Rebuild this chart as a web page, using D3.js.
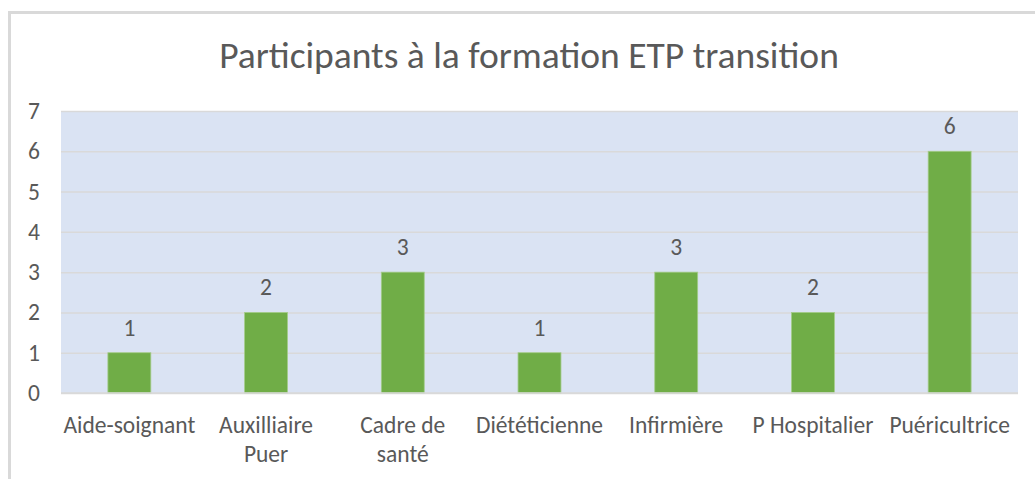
<!DOCTYPE html>
<html>
<head>
<meta charset="utf-8">
<script src="https://cdn.jsdelivr.net/npm/d3@7/dist/d3.min.js"></script>
<style>
  html, body { margin: 0; padding: 0; background: #ffffff; }
  svg { display: block; }
  text { font-family: Carlito, Lato, "Open Sans", sans-serif; fill: #595959; }
</style>
</head>
<body>
<svg id="chart" width="1035" height="479"></svg>
<script>
// Chart data
const title = "Participants à la formation ETP transition";
const categories = ["Aide-soignant", "Auxilliaire Puer", "Cadre de santé", "Diététicienne", "Infirmière", "P Hospitalier", "Puéricultrice"];
const values = [1, 2, 3, 1, 3, 2, 6];
const yTicks = [0, 1, 2, 3, 4, 5, 6, 7];

const W = 1035, H = 479;
const margin = { left: 61, right: 17, top: 111, bottom: 86 };
const labelSize = 23.5;
const svg = d3.select("#chart");

// Outer chart frame (runs past the right and bottom edges)
svg.append("rect")
  .attr("x", 9.5).attr("y", 12.5)
  .attr("width", W + 20).attr("height", H + 20)
  .attr("fill", "#ffffff")
  .attr("stroke", "#d9d9d9").attr("stroke-width", 3);

const x = d3.scaleBand()
  .domain(categories)
  .range([margin.left, W - margin.right])
  .paddingInner(0.686).paddingOuter(0.343);

const y = d3.scaleLinear()
  .domain([0, 7])
  .range([H - margin.bottom, margin.top]);

// Plot area background
svg.append("rect")
  .attr("x", margin.left).attr("y", margin.top)
  .attr("width", W - margin.right - margin.left)
  .attr("height", y(0) - margin.top)
  .attr("fill", "#dae3f3");

// Horizontal gridlines and y labels
const yAxis = d3.axisLeft(y)
  .tickValues(yTicks)
  .tickSize(-(W - margin.right - margin.left))
  .tickPadding(21)
  .tickFormat(d3.format("d"));

const gy = svg.append("g")
  .attr("transform", `translate(${margin.left},0)`)
  .call(yAxis);
gy.select(".domain").remove();
gy.selectAll(".tick line").attr("stroke", "#d9d9d9").attr("stroke-width", 1.5);
gy.selectAll(".tick text")
  .attr("font-size", labelSize)
  .attr("fill", "#595959");

// Bars
svg.append("g").selectAll("rect")
  .data(values)
  .join("rect")
  .attr("x", (d, i) => x(categories[i]))
  .attr("y", d => y(d))
  .attr("width", x.bandwidth())
  .attr("height", d => y(0) - y(d))
  .attr("fill", "#70ad47")
  .attr("stroke", "#a4cc8a")
  .attr("stroke-width", 0.8);

// Value labels
svg.append("g").selectAll("text")
  .data(values)
  .join("text")
  .attr("x", (d, i) => x(categories[i]) + x.bandwidth() / 2)
  .attr("y", d => y(d) - 17)
  .attr("text-anchor", "middle")
  .attr("font-size", labelSize)
  .text(d => d);

// Category axis, labels wrapped to the band step
const step = x.step();
const xAxis = d3.axisBottom(x).tickSize(0).tickPadding(0);
const gx = svg.append("g")
  .attr("transform", `translate(0,${y(0)})`)
  .call(xAxis);
gx.select(".domain").attr("stroke", "#d9d9d9").attr("stroke-width", 1.5)
  .attr("d", `M${margin.left},0H${W - margin.right}`);
gx.selectAll(".tick text")
  .attr("font-size", labelSize)
  .attr("fill", "#595959")
  .attr("y", 0)
  .attr("dy", 0)
  .each(function (d) {
    const t = d3.select(this);
    t.text(null);
    const words = d.split(" ");
    const lines = [];
    let line = [];
    const probe = t.append("tspan");
    words.forEach(w => {
      const trial = line.concat(w).join(" ");
      probe.text(trial);
      if (line.length && probe.node().getComputedTextLength() > step - 4) {
        lines.push(line.join(" "));
        line = [w];
      } else {
        line.push(w);
      }
    });
    lines.push(line.join(" "));
    probe.remove();
    lines.forEach((l, i) => {
      t.append("tspan")
        .attr("x", 0)
        .attr("y", 40 + i * 29)
        .text(l);
    });
  });

// Title
svg.append("text")
  .attr("x", 529)
  .attr("y", 68)
  .attr("text-anchor", "middle")
  .attr("font-size", 37.5)
  .attr("font-weight", 300)
  .text(title);
</script>
</body>
</html>
